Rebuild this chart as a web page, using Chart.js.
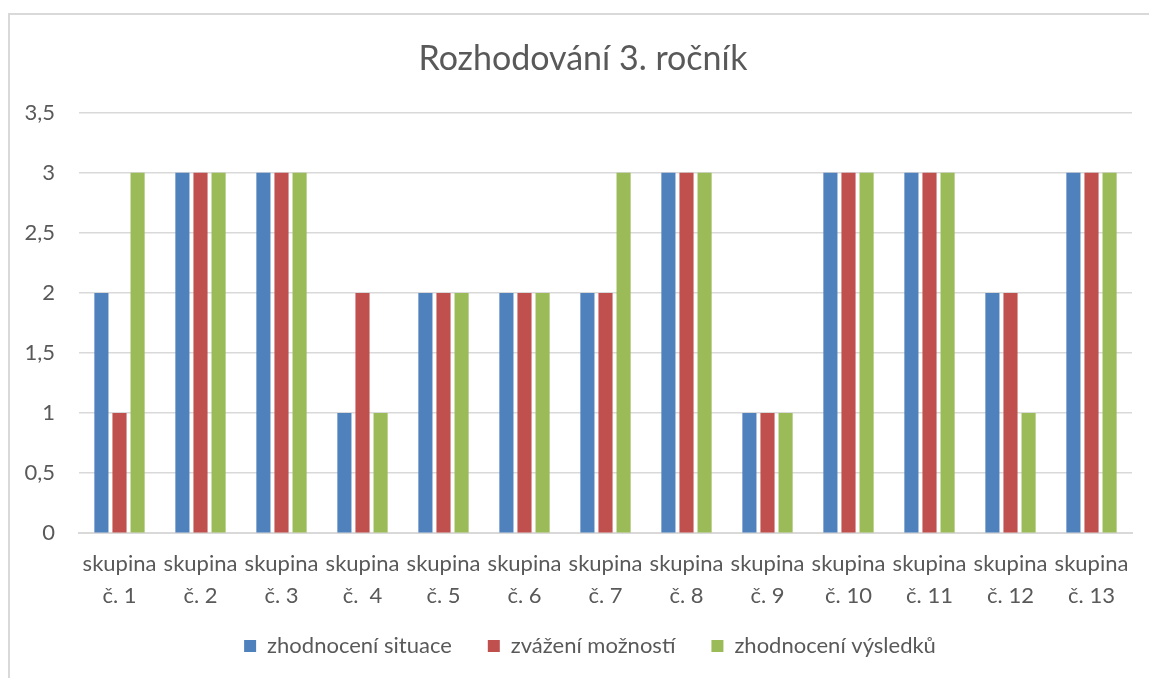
<!DOCTYPE html>
<html>
<head>
<meta charset="utf-8">
<script src="https://cdn.jsdelivr.net/npm/chart.js@4.4.1/dist/chart.umd.min.js"></script>
<style>
  html, body { margin: 0; padding: 0; background: #fff; overflow: hidden; }
  #frame { position: absolute; left: 8px; top: 13px; width: 1200px; height: 700px;
           border-left: 2px solid #d9d9d9; border-top: 2px solid #d9d9d9; }
  #chart { position: absolute; left: 0; top: 0; }
</style>
</head>
<body>
<div id="frame"></div>
<canvas id="chart" width="1149" height="678"></canvas>
<script>
var groups = [
    ['skupina', 'č. 1'], ['skupina', 'č. 2'], ['skupina', 'č. 3'], ['skupina', 'č.  4'],
    ['skupina', 'č. 5'], ['skupina', 'č. 6'], ['skupina', 'č. 7'], ['skupina', 'č. 8'],
    ['skupina', 'č. 9'], ['skupina', 'č. 10'], ['skupina', 'č. 11'], ['skupina', 'č. 12'],
    ['skupina', 'č. 13']
];
var situace  = [2, 3, 3, 1, 2, 2, 2, 3, 1, 3, 3, 2, 3];
var moznosti = [1, 3, 3, 2, 2, 2, 2, 3, 1, 3, 3, 2, 3];
var vysledky = [3, 3, 3, 1, 2, 2, 3, 3, 1, 3, 3, 1, 3];

var grey = '#595959';
var font = 'Lato, "Open Sans", sans-serif';

// title and legend sit a bit right of the canvas centre, legend closer to the labels
var nudge = {
    id: 'nudge',
    afterLayout: function (chart) {
        var lg = chart.legend;
        lg.left += 24; lg.right += 24;
        lg.top -= 20; lg.bottom -= 20;
        var t = chart.titleBlock;
        t.left += 17; t.right += 17;
    }
};

// Get the context of the canvas element we want to select
var ctx = document.getElementById('chart').getContext('2d');
var barChart = new Chart(ctx, {
    type: 'bar',
    data: {
        labels: groups,
        datasets: [
            { label: 'zhodnocení situace', data: situace, backgroundColor: '#4F81BD' },
            { label: 'zvážení možností', data: moznosti, backgroundColor: '#C0504D' },
            { label: 'zhodnocení výsledků', data: vysledky, backgroundColor: '#9BBB59' }
        ]
    },
    plugins: [nudge],
    options: {
        responsive: false,
        animation: false,
        devicePixelRatio: 1,
        layout: { padding: { left: 0, right: 17, top: 0, bottom: -9 } },
        datasets: { bar: { barPercentage: 0.78, categoryPercentage: 0.67 } },
        plugins: {
            title: {
                display: true,
                text: 'Rozhodování 3. ročník',
                color: grey,
                font: { family: font, size: 34, weight: 'normal' },
                padding: { top: 39, bottom: 33 }
            },
            legend: {
                position: 'bottom',
                labels: {
                    color: grey,
                    font: { family: font, size: 22 },
                    boxWidth: 12,
                    boxHeight: 12,
                    padding: 36
                }
            },
            tooltip: { enabled: false }
        },
        scales: {
            x: {
                grid: { display: false },
                border: { color: '#d9d9d9', width: 2 },
                ticks: {
                    color: grey,
                    font: { family: font, size: 22, lineHeight: 1.45 },
                    maxRotation: 0,
                    autoSkip: false,
                    padding: 7
                }
            },
            y: {
                min: 0,
                max: 3.5,
                grid: { color: '#d9d9d9', lineWidth: 1.5, drawTicks: false },
                border: { display: false },
                ticks: {
                    stepSize: 0.5,
                    color: grey,
                    padding: 24,
                    font: { family: font, size: 22 },
                    callback: function (v) { return String(v).replace('.', ','); }
                },
                afterFit: function (scale) { scale.width = 79; }
            }
        }
    }
});
</script>
</body>
</html>
